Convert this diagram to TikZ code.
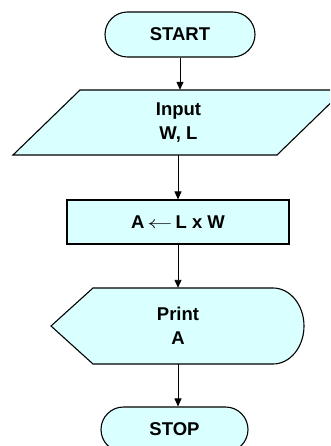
\documentclass[tikz,border=0pt]{standalone}
\usepackage{fontspec}
\setmainfont{Liberation Sans}
\usetikzlibrary{shapes.misc,arrows.meta}
\definecolor{boxfill}{HTML}{D9FFFF}
\begin{document}
\begin{tikzpicture}[x=1pt,y=-1pt,
  shapeline/.style={draw=black,line width=1.1pt,fill=boxfill},
  term/.style={shapeline,rounded rectangle,minimum height=45pt,inner sep=0pt},
  txt/.style={inner sep=0pt,align=center,font=\fontsize{18.5}{23.5}\selectfont\bfseries},
  arr/.style={draw=black,line width=0.9pt,-{Triangle[length=8pt,width=7pt]}}]
\useasboundingbox (0,0) rectangle (330,446);
\clip (0,0) rectangle (330,446);
% START
\node[term,txt,minimum width=150pt] (start) at (180,34.5) {START};
% Input parallelogram
\draw[shapeline] (80,90) -- (344,90) -- (277,155) -- (13,155) -- cycle;
\node[txt,minimum width=200pt,minimum height=65pt] (inp) at (178.5,122.5) {Input\\W, L};
% Process
\node[shapeline,txt,minimum width=222pt,minimum height=44pt] (proc) at (178,222) {A\,\scalebox{1.45}[1]{$\leftarrow$}\,L x W};
% Print (display)
\draw[shapeline] (51,326) -- (93,288) -- (273,288)
  arc[start angle=-90,end angle=90,x radius=31pt,y radius=-38pt] -- (93,364) -- cycle;
\node[txt,minimum width=200pt,minimum height=76pt] (prn) at (178,326) {Print\\A};
% STOP
\node[term,txt,minimum width=147pt] (stop) at (174.5,429.5) {STOP};
% connectors
\draw[arr] (start.south) -- (start.south |- inp.north);
\draw[arr] (inp.south -| proc.north) -- (proc.north);
\draw[arr] (proc.south) -- (prn.north);
\draw[arr] (prn.south) -- (prn.south |- stop.north);
\end{tikzpicture}
\end{document}
